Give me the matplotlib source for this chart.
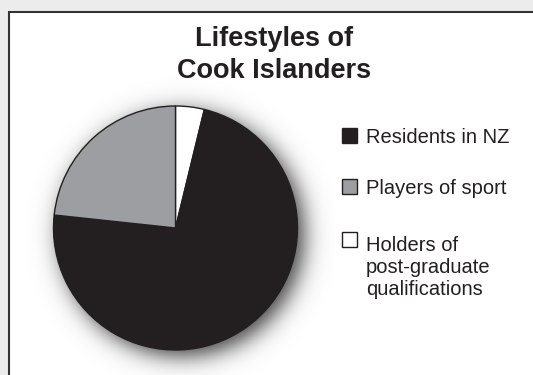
import matplotlib
matplotlib.use("Agg")
import matplotlib.pyplot as plt
from matplotlib.patches import Rectangle
import numpy as np

W, H = 533, 375
DPI = 100

title = "Lifestyles of\nCook Islanders"
labels = ["Residents in NZ", "Players of sport", "Holders of\npost-graduate\nqualifications"]
shares = [72.9, 23.3, 3.8]          # percent of the pie
colors = ["#231f20", "#9d9ea1", "#ffffff"]

# clockwise from 12 o'clock: white, black, grey
pie_order = [2, 0, 1]

plt.rcParams["font.family"] = ["Liberation Sans", "DejaVu Sans"]

fig = plt.figure(figsize=(W / DPI, H / DPI), dpi=DPI)
fig.patch.set_facecolor("#ececec")


def px(x, y):
    """pixel coords (from top-left) -> figure fraction"""
    return x / W, 1 - y / H


# white panel with dark border on top and left
x0, y0 = px(9, 12)
fig.patches.append(Rectangle((x0, -0.01), 1 - x0 + 0.01, y0 + 0.01, transform=fig.transFigure,
                             facecolor="white", edgecolor="#333333", lw=1.5, zorder=-5))

fig.text(*px(274, 55), title, ha="center", va="center", fontsize=19.5,
         fontweight="bold", color="#231f20", linespacing=1.3)

# pie axes
cx, cy, r = 175.5, 228, 122
pad = 1.3
aw, ah = 2 * r * pad / W, 2 * r * pad / H
fx, fy = px(cx, cy)
ax = fig.add_axes([fx - aw / 2, fy - ah / 2, aw, ah], zorder=1)
ax.set_xlim(-pad, pad)
ax.set_ylim(-pad, pad)
ax.set_aspect("equal")
ax.axis("off")

# soft drop shadow under the pie, pushed down and to the right
g = np.linspace(-pad, pad, 400)
gx, gy = np.meshgrid(g, g)
dist = np.hypot(gx - 0.05, gy + 0.05)
alpha = 0.75 / (1 + np.exp((dist - 1.0) / 0.055))
shadow = np.zeros((400, 400, 4))
shadow[..., 3] = alpha
ax.imshow(shadow, extent=(-pad, pad, -pad, pad), origin="lower", zorder=0,
          interpolation="bilinear")

wedges, _ = ax.pie([shares[i] for i in pie_order], colors=[colors[i] for i in pie_order],
                   startangle=90, counterclock=False, radius=1.0,
                   wedgeprops=dict(edgecolor="#231f20", linewidth=1.0))
for w in wedges:
    w.set_zorder(2)
ax.set_xlim(-pad, pad)
ax.set_ylim(-pad, pad)

# legend entries
fs = 14.5
lead = 1.2 * fs * DPI / 72
rows = [143, 194, 247]   # first-line baselines (px from top)
for lab, col, yb in zip(labels, colors, rows):
    sx, sy = px(342, yb)
    fig.patches.append(Rectangle((sx, sy), 15 / W, 15 / H, transform=fig.transFigure,
                                 facecolor=col, edgecolor="#231f20", lw=1.0))
    nlines = lab.count("\n")
    fig.text(*px(366, yb + nlines * lead), lab, ha="left", va="baseline", fontsize=fs,
             color="#231f20", linespacing=1.2)

fig.savefig("out.png", dpi=DPI)
